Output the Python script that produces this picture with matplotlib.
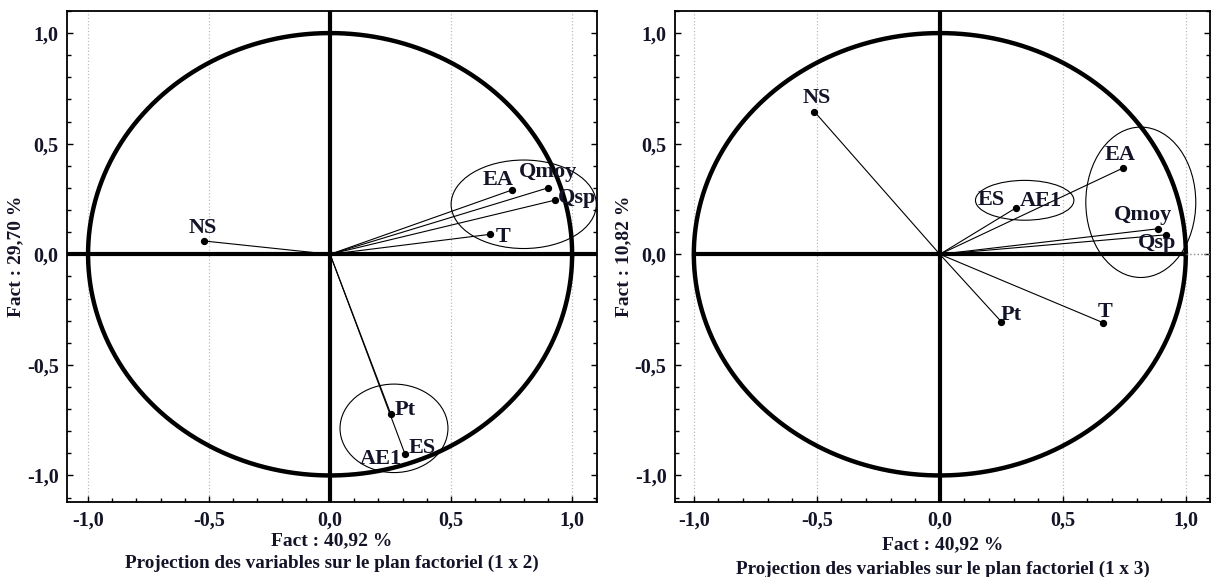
import numpy as np
import matplotlib
matplotlib.use("Agg")
import matplotlib.pyplot as plt
from matplotlib.patches import Ellipse
from matplotlib.ticker import MultipleLocator, FuncFormatter

# Variables projected on plane (1 x 2)
vars12 = ["NS", "EA", "Qmoy", "Qsp", "T", "Pt", "ES"]
f1_12 = [-0.52, 0.75, 0.90, 0.93, 0.66, 0.25, 0.31]
f2_12 = [0.06, 0.29, 0.30, 0.245, 0.09, -0.72, -0.905]

# Variables projected on plane (1 x 3)
vars13 = ["NS", "ES", "EA", "Qmoy", "Qsp", "Pt", "T"]
f1_13 = [-0.51, 0.31, 0.745, 0.885, 0.92, 0.25, 0.665]
f3_13 = [0.645, 0.21, 0.39, 0.115, 0.088, -0.305, -0.31]

xlabel = "Fact : 40,92 %"
ylabels = ["Fact : 29,70 %", "Fact : 10,82 %"]
titles = ["Projection des variables sur le plan factoriel (1 x 2)",
          "Projection des variables sur le plan factoriel (1 x 3)"]

TXT = "#141428"
LBL = 16
plt.rcParams["font.family"] = ["Liberation Serif", "DejaVu Serif"]
plt.rcParams["font.weight"] = "bold"
plt.rcParams["axes.labelweight"] = "bold"

fig = plt.figure(figsize=(12.16, 5.77), dpi=100)
ax1 = fig.add_axes([0.0551, 0.130, 0.4359, 0.851])
ax2 = fig.add_axes([0.555, 0.130, 0.440, 0.851])

comma = FuncFormatter(lambda v, p: ("%.1f" % v).replace(".", ","))

def setup(ax, xlim, ylim, ylab):
    ax.set_xlim(*xlim)
    ax.set_ylim(*ylim)
    ax.xaxis.set_major_locator(MultipleLocator(0.5))
    ax.yaxis.set_major_locator(MultipleLocator(0.5))
    ax.xaxis.set_minor_locator(MultipleLocator(0.1))
    ax.yaxis.set_minor_locator(MultipleLocator(0.1))
    ax.xaxis.set_major_formatter(comma)
    ax.yaxis.set_major_formatter(comma)
    ax.tick_params(which="both", direction="in", top=False, right=True,
                   labelsize=14.5, labelcolor=TXT, width=1)
    ax.tick_params(which="major", length=4, pad=6)
    ax.tick_params(which="minor", length=3)
    ax.grid(axis="x", which="major", color="#bbbbbb", ls=":", lw=0.9)
    ax.set_axisbelow(True)
    for s in ax.spines.values():
        s.set_linewidth(1.3)
    ax.set_ylabel(ylab, fontsize=14, color=TXT, labelpad=2,
                  fontweight="bold")
    t = np.linspace(0, 2 * np.pi, 400)
    ax.plot(np.cos(t), np.sin(t), color="black", lw=3.2, zorder=3)

# left panel
setup(ax1, (-1.087, 1.103), (-1.12, 1.10), ylabels[0])
ax1.set_xlabel(xlabel, fontsize=14, color=TXT, labelpad=1.5,
               fontweight="bold")
ax1.axhline(0, color="black", lw=3, zorder=3)
ax1.axvline(0, color="black", lw=3, zorder=3)
for x, y in zip(f1_12, f2_12):
    ax1.plot([0, x], [0, y], color="black", lw=0.8, zorder=4)
ax1.scatter(f1_12, f2_12, s=18, color="black", zorder=5)
offs12 = {"NS": (-0.005, 0.06), "EA": (-0.054, 0.045), "Qmoy": (0.0, 0.072),
          "Qsp": (0.09, 0.01), "T": (0.054, -0.01), "Pt": (0.06, 0.018),
          "ES": (0.07, 0.03)}
for n, x, y in zip(vars12, f1_12, f2_12):
    dx, dy = offs12[n]
    ax1.text(x + dx, y + dy, n, fontsize=LBL, color=TXT, ha="center",
             va="center", zorder=6)
ax1.text(0.31 - 0.10, -0.905 - 0.02, "AE1", fontsize=LBL, color=TXT,
         ha="center", va="center", zorder=6)
ax1.add_patch(Ellipse((0.80, 0.226), 0.60, 0.40, fill=False, lw=0.8,
                      ec="black", zorder=2))
ax1.add_patch(Ellipse((0.264, -0.787), 0.446, 0.40, fill=False, lw=0.8,
                      ec="black", zorder=2))
fig.text(0.273, 0.015, titles[0], fontsize=13.8, color=TXT, ha="center",
         fontweight="bold")

# right panel
setup(ax2, (-1.077, 1.098), (-1.12, 1.10), ylabels[1])
ax2.set_xlabel(xlabel, fontsize=14, color=TXT, labelpad=4,
               fontweight="bold")
ax2.plot([-1.0, 1.0], [0, 0], color="black", lw=3, zorder=3)
ax2.plot([1.0, 1.098], [0, 0], color="#888888", lw=1, ls=":", zorder=3)
ax2.axvline(0, color="black", lw=3, zorder=3)
for x, y in zip(f1_13, f3_13):
    ax2.plot([0, x], [0, y], color="black", lw=0.8, zorder=4)
ax2.scatter(f1_13, f3_13, s=18, color="black", zorder=5)
offs13 = {"NS": (0.012, 0.06), "ES": (-0.1, 0.036), "EA": (-0.012, 0.06),
          "Qmoy": (-0.06, 0.063), "Qsp": (-0.037, -0.036), "Pt": (0.04, 0.03),
          "T": (0.008, 0.05)}
for n, x, y in zip(vars13, f1_13, f3_13):
    dx, dy = offs13[n]
    ax2.text(x + dx, y + dy, n, fontsize=LBL, color=TXT, ha="center",
             va="center", zorder=6)
ax2.text(0.31 + 0.1, 0.21 + 0.03, "AE1", fontsize=LBL, color=TXT,
         ha="center", va="center", zorder=6)
ax2.add_patch(Ellipse((0.817, 0.235), 0.447, 0.68, fill=False, lw=0.8,
                      ec="black", zorder=2))
ax2.add_patch(Ellipse((0.345, 0.244), 0.40, 0.18, fill=False, lw=0.8,
                      ec="black", zorder=2))
fig.text(0.775, 0.005, titles[1], fontsize=13.8, color=TXT, ha="center",
         fontweight="bold")

fig.savefig("out.png", dpi=100)
